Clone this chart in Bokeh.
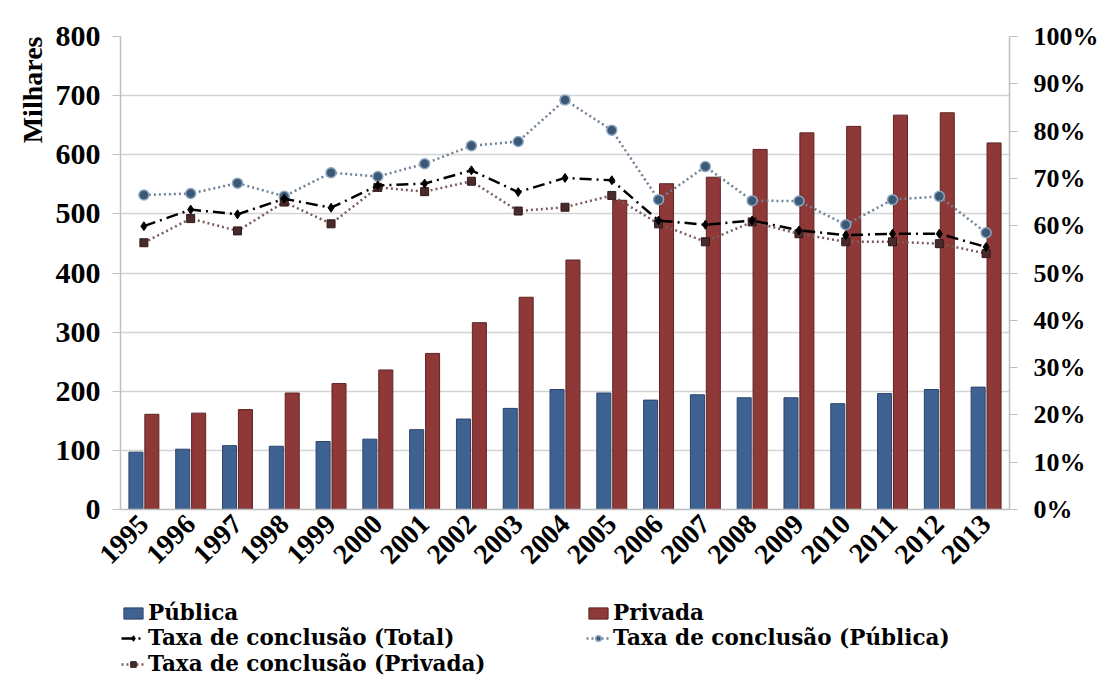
import math
from bokeh.plotting import figure
from bokeh.layouts import column
from bokeh.models import (Range1d, LinearAxis, FactorRange, Legend, LegendItem,
                          FixedTicker, NumeralTickFormatter, Title, ColumnDataSource)
from bokeh.transform import dodge
from bokeh.embed import file_html
from bokeh.resources import INLINE

years = [str(y) for y in range(1995, 2014)]
publica = [97, 102, 108, 107, 115, 119, 135, 153, 171, 203, 197, 185, 194, 189, 189, 179, 196, 203, 207]
privada = [161, 163, 169, 197, 213, 236, 264, 316, 359, 422, 523, 551, 562, 609, 637, 648, 667, 671, 620]
taxa_total = [0.599, 0.634, 0.624, 0.657, 0.638, 0.685, 0.689, 0.717, 0.671, 0.701, 0.696, 0.611,
              0.602, 0.611, 0.590, 0.580, 0.583, 0.583, 0.555]
taxa_publica = [0.665, 0.668, 0.690, 0.662, 0.712, 0.704, 0.731, 0.769, 0.778, 0.866, 0.802, 0.655,
                0.725, 0.653, 0.652, 0.602, 0.655, 0.662, 0.585]
taxa_privada = [0.564, 0.615, 0.589, 0.650, 0.604, 0.681, 0.672, 0.694, 0.631, 0.639, 0.664, 0.604,
                0.566, 0.608, 0.583, 0.566, 0.566, 0.562, 0.541]
left_ticks = [0, 100, 200, 300, 400, 500, 600, 700, 800]
right_ticks = [0, 0.1, 0.2, 0.3, 0.4, 0.5, 0.6, 0.7, 0.8, 0.9, 1.0]

src = ColumnDataSource(dict(year=years, pub=publica, priv=privada, tt=taxa_total,
                            tpub=taxa_publica, tpriv=taxa_privada))

FONT = "Liberation Serif"
LEG_FONT = "DejaVu Serif"
PUB_FILL, PUB_LINE = "#3E6393", "#2b4468"
PRIV_FILL, PRIV_LINE = "#8E3838", "#5e2424"

p = figure(x_range=FactorRange(*years), y_range=Range1d(0, 800), width=1103, height=590,
           output_backend="svg", toolbar_location=None,
           min_border_left=120, min_border_right=94, min_border_top=36, min_border_bottom=81)
p.extra_y_ranges = {"pct": Range1d(0, 1)}
p.outline_line_color = None
p.background_fill_color = "white"
p.border_fill_color = "white"

p.xgrid.grid_line_color = None
p.ygrid.grid_line_color = "#d4d4d4"
p.ygrid.grid_line_width = 1.5
p.x_range.range_padding = 0
p.x_range.group_padding = 0

# bars
BAR_PUB = dict(fill_color=PUB_FILL, line_color=PUB_LINE, line_width=1)
BAR_PRIV = dict(fill_color=PRIV_FILL, line_color=PRIV_LINE, line_width=1)
p.vbar(x=dodge("year", -0.17, range=p.x_range), top="pub", width=0.3, source=src, **BAR_PUB)
p.vbar(x=dodge("year", 0.17, range=p.x_range), top="priv", width=0.3, source=src, **BAR_PRIV)

# rate lines
TPUB_LINE = dict(line_color="#6e8297", line_width=2.5, line_dash="2 3")
TPUB_MARK = dict(marker="circle", size=10, fill_color="#3b5877", line_color="#8ea6be", line_width=1.5)
TPRIV_LINE = dict(line_color="#7b5c5c", line_width=2.5, line_dash="2 3")
TPRIV_MARK = dict(marker="square", size=8, fill_color="#4a2b2b", line_color="#2e1a1a")
TT_LINE = dict(line_color="black", line_width=2.5, line_dash="12 5 2 5")
TT_MARK = dict(marker="diamond", size=9, fill_color="black", line_color="black")

p.line("year", "tpub", source=src, y_range_name="pct", **TPUB_LINE)
p.scatter("year", "tpub", source=src, y_range_name="pct", **TPUB_MARK)
p.line("year", "tpriv", source=src, y_range_name="pct", **TPRIV_LINE)
p.scatter("year", "tpriv", source=src, y_range_name="pct", **TPRIV_MARK)
p.line("year", "tt", source=src, y_range_name="pct", **TT_LINE)
p.scatter("year", "tt", source=src, y_range_name="pct", **TT_MARK)

# axes
ya = p.yaxis[0]
ya.ticker = FixedTicker(ticks=left_ticks)
ya.axis_line_color = "#bfbfbf"
ya.axis_line_width = 1.5
ya.major_tick_line_color = "#bfbfbf"
ya.major_tick_out = 8
ya.major_tick_in = 0
ya.minor_tick_line_color = None
ya.major_label_text_font = FONT
ya.major_label_text_font_style = "bold"
ya.major_label_text_font_size = "30px"
ya.major_label_text_color = "black"
ya.major_label_standoff = 12

ra = LinearAxis(y_range_name="pct", ticker=FixedTicker(ticks=right_ticks),
                formatter=NumeralTickFormatter(format="0%"))
ra.axis_line_color = "#bfbfbf"
ra.axis_line_width = 1.5
ra.major_tick_line_color = "#bfbfbf"
ra.major_tick_out = 8
ra.major_tick_in = 0
ra.minor_tick_line_color = None
ra.major_label_text_font = FONT
ra.major_label_text_font_style = "bold"
ra.major_label_text_font_size = "26px"
ra.major_label_text_color = "black"
ra.major_label_standoff = 16
p.add_layout(ra, "right")

xa = p.xaxis[0]
xa.axis_line_color = "#bfbfbf"
xa.axis_line_width = 1.5
xa.major_tick_line_color = None
xa.major_label_orientation = math.pi / 4
xa.major_label_text_font = FONT
xa.major_label_text_font_style = "bold"
xa.major_label_text_font_size = "28px"
xa.major_label_text_color = "black"
xa.major_label_standoff = 4

p.add_layout(Title(text="Milhares", align="right", text_font=FONT, text_font_style="bold",
                   text_font_size="28px", text_color="black"), "left")

# legend strip: a second figure sharing the categories; its sample renderers are hidden
lg = figure(width=1103, height=103, x_range=p.x_range, y_range=Range1d(2000, 3000),
            output_backend="svg", toolbar_location=None, x_axis_type=None, y_axis_type=None,
            min_border=0)
lg.outline_line_color = None
lg.grid.grid_line_color = None
lg.border_fill_color = "white"
lg.background_fill_color = "white"

l_pub = lg.vbar(x="year", top="pub", width=0.3, source=src, **BAR_PUB)
l_priv = lg.vbar(x="year", top="priv", width=0.3, source=src, **BAR_PRIV)
l_tt = [lg.line("year", "tt", source=src, **TT_LINE), lg.scatter("year", "tt", source=src, **TT_MARK)]
l_tpub = [lg.line("year", "tpub", source=src, **TPUB_LINE), lg.scatter("year", "tpub", source=src, **TPUB_MARK)]
l_tpriv = [lg.line("year", "tpriv", source=src, **TPRIV_LINE), lg.scatter("year", "tpriv", source=src, **TPRIV_MARK)]
for r in [l_pub, l_priv] + l_tt + l_tpub + l_tpriv:
    r.visible = False

def add_legend(label, renderers, loc):
    leg = Legend(items=[LegendItem(label=label, renderers=renderers)], location=loc)
    leg.label_text_font = LEG_FONT
    leg.label_text_font_style = "bold"
    leg.label_text_font_size = "21.5px"
    leg.label_text_color = "black"
    leg.background_fill_alpha = 0
    leg.border_line_color = None
    leg.padding = 4
    leg.margin = 0
    leg.spacing = 0
    leg.glyph_width = 24
    leg.glyph_height = 14
    leg.label_standoff = 3
    leg.label_height = 20
    leg.click_policy = "none"
    lg.add_layout(leg, "center")

add_legend("Pública", [l_pub], (1, 68))
add_legend("Taxa de conclusão (Total)", l_tt, (1, 43))
add_legend("Taxa de conclusão (Privada)", l_tpriv, (1, 17))
add_legend("Privada", [l_priv], (466, 68))
add_legend("Taxa de conclusão (Pública)", l_tpub, (466, 43))

page = column(p, lg, spacing=0)
open("out.html", "w").write(file_html(page, INLINE))
